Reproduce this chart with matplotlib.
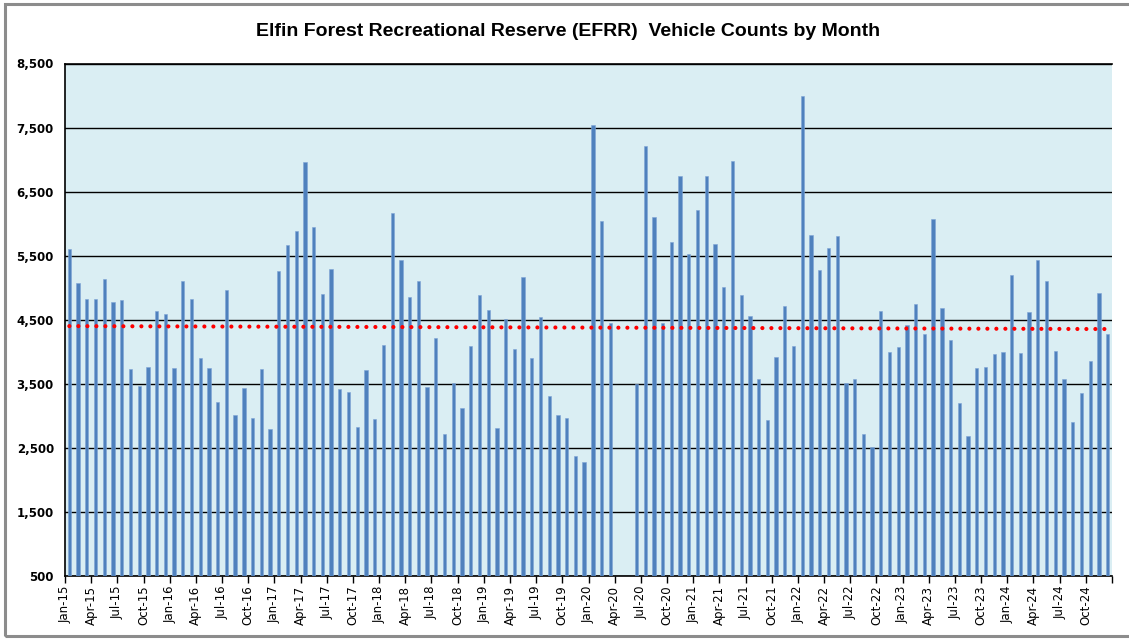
import numpy as np
import matplotlib
matplotlib.use("Agg")
import matplotlib.pyplot as plt
from matplotlib.patches import Rectangle

# monthly vehicle counts, Jan-15 .. Dec-24 (nan = no data)
counts_2015 = [5600, 5080, 4830, 4830, 5130, 4780, 4810, 3730, 3470, 3770, 4640, 4590]
counts_2016 = [3740, 5110, 4820, 3910, 3750, 3220, 4960, 3020, 3440, 2970, 3730, 2800]
counts_2017 = [5260, 5670, 5890, 6960, 5950, 4900, 5300, 3420, 3380, 2830, 3710, 2950]
counts_2018 = [4100, 6160, 5430, 4860, 5100, 3450, 4220, 2720, 3510, 3130, 4090, 4890]
counts_2019 = [4660, 2810, 4510, 4040, 5160, 3900, 4540, 3310, 3020, 2970, 2380, 2280]
counts_2020 = [7540, 6040, 4450, np.nan, np.nan, 3500, 7220, 6110, 4450, 5720, 6740, 5520]
counts_2021 = [6220, 6740, 5690, 5010, 6980, 4880, 4560, 3580, 2940, 3920, 4720, 4090]
counts_2022 = [7990, 5820, 5270, 5620, 5800, 3510, 3580, 2710, 2510, 4630, 3990, 4080]
counts_2023 = [4420, 4750, 4280, 6070, 4690, 4180, 3200, 2690, 3750, 3770, 3970, 4000]
counts_2024 = [5200, 3980, 4620, 5430, 5100, 4020, 3580, 2910, 3350, 3850, 4920, 4280]

months = ["Jan", "Feb", "Mar", "Apr", "May", "Jun", "Jul", "Aug", "Sep", "Oct", "Nov", "Dec"]
years = list(range(15, 25))

counts = np.array(counts_2015 + counts_2016 + counts_2017 + counts_2018 + counts_2019
                  + counts_2020 + counts_2021 + counts_2022 + counts_2023 + counts_2024, dtype=float)
labels = [f"{m}-{y}" for y in years for m in months]

n = len(counts)
x = np.arange(n) + 0.5
ok = ~np.isnan(counts)
bars = np.where(ok, counts, 0)

# linear trendline, blank months counted as zero like the spreadsheet does
slope, icpt = np.polyfit(x, bars, 1)

fig = plt.figure(figsize=(11.29, 6.4), dpi=100)
ax = fig.add_axes([65 / 1129, 1 - 576 / 640, (1112 - 65) / 1129, (576 - 63.5) / 640])
ax.set_facecolor("#DAEEF3")

fig.patches.append(Rectangle((5 / 1129, 4 / 640), 1.2, 1 - 8 / 640, transform=fig.transFigure,
                             fill=False, edgecolor="#8C8C8C", linewidth=2.2))

ax.bar(x, bars - 500, bottom=500, width=0.38, color="#4F81BD", edgecolor="#7FA5D6",
       linewidth=0.4, zorder=3)
ax.plot(x, slope * x + icpt, linestyle=(0, (0.01, 2.15)), dash_capstyle="round",
        color="#FF0000", linewidth=3.0, zorder=4)

ax.set_xlim(0, n)
ax.set_ylim(500, 8500)
yt = np.arange(500, 8501, 1000)
ax.set_yticks(yt)
ax.set_yticklabels([f"{v:,}" for v in yt], fontsize=8.5, fontweight="bold", family="DejaVu Sans")
ax.tick_params(axis="y", length=0, pad=8)
ax.grid(axis="y", color="black", linewidth=1.0, zorder=1)

ax.set_xticks(np.arange(0, n + 1, 3))
ax.set_xticklabels([labels[i] if i < n else "" for i in range(0, n + 1, 3)],
                   rotation=90, fontsize=8.5, family="DejaVu Sans")
ax.tick_params(axis="x", length=5, width=1, direction="out", pad=2)

ax.spines["right"].set_visible(False)
ax.spines["top"].set_linewidth(1.2)
ax.spines["left"].set_linewidth(1.2)
ax.spines["bottom"].set_linewidth(1.2)

fig.text(568 / 1129, 1 - 32 / 640,
         "Elfin Forest Recreational Reserve (EFRR)  Vehicle Counts by Month",
         ha="center", va="center", fontsize=14, fontweight="bold", family="Liberation Sans")

fig.savefig("out.png", dpi=100)
